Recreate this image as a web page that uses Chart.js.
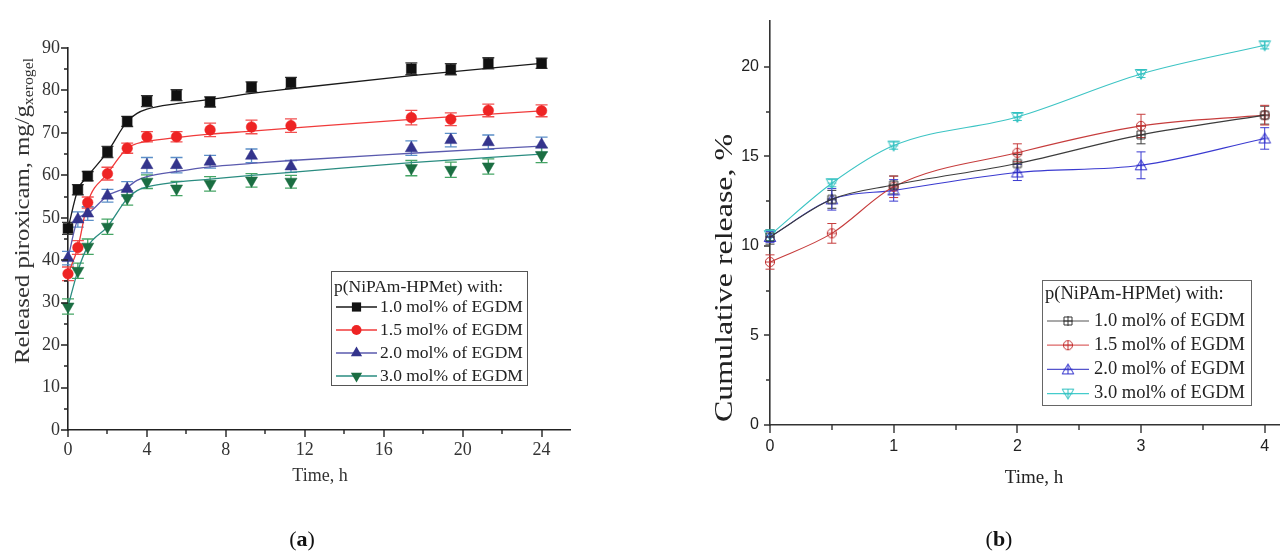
<!DOCTYPE html>
<html><head><meta charset="utf-8">
<script src="https://cdn.jsdelivr.net/npm/chart.js@4.4.1/dist/chart.umd.min.js"></script>
<style>
html,body{margin:0;padding:0;background:#fff;width:1287px;height:552px;overflow:hidden}
canvas{position:absolute;top:0}
#ca{left:0}
#cb{left:640px}
</style></head><body>
<canvas id="ca" width="640" height="552"></canvas>
<canvas id="cb" width="647" height="552"></canvas>
<script>
// ---------- DATA ----------
const seriesNames = ['1.0 mol% of EGDM','1.5 mol% of EGDM','2.0 mol% of EGDM','3.0 mol% of EGDM'];
const legendTitle = 'p(NiPAm-HPMet) with:';

// Panel (a)
const timeA = [0, 0.5, 1, 2, 3, 4, 5.5, 7.2, 9.3, 11.3, 17.4, 19.4, 21.3, 24];
const a10 = [47.5, 56.6, 59.8, 65.5, 72.7, 77.5, 78.9, 77.3, 80.8, 81.8, 85.1, 85.0, 86.4, 86.4];
const a15 = [36.8, 43.0, 53.6, 60.4, 66.4, 69.1, 69.1, 70.7, 71.4, 71.7, 73.6, 73.2, 75.3, 75.2];
const a20 = [40.5, 49.6, 51.0, 55.2, 56.8, 62.4, 62.4, 63.2, 64.6, 62.1, 66.4, 68.3, 67.8, 67.2];
const a30 = [29.1, 37.5, 43.2, 47.9, 54.7, 58.5, 56.9, 58.0, 58.8, 58.5, 61.7, 61.3, 62.1, 64.8];
const a10Err = [1.4, 1.2, 1.1, 1.3, 1.2, 1.3, 1.3, 1.2, 1.2, 1.3, 1.4, 1.3, 1.3, 1.2];
const a15Err = [1.6, 1.6, 1.3, 1.5, 1.2, 1.2, 1.2, 1.6, 1.6, 1.6, 1.7, 1.5, 1.5, 1.4];
const a20Err = [1.6, 1.8, 1.6, 1.5, 1.7, 1.8, 1.8, 1.5, 1.6, 1.4, 1.7, 1.6, 1.7, 1.8];
const a30Err = [1.8, 1.8, 1.8, 1.8, 1.7, 1.6, 1.7, 1.7, 1.6, 1.5, 1.8, 1.8, 1.8, 1.8];
// fitted curves (a)
const fitTimeA = [0, 0.5, 1, 2, 3, 3.5, 4, 5.5, 7.2, 9.3, 11.3, 17.4, 24];
const fitA10 = [47.5, 56.6, 59.8, 65.5, 72.7, 74.6, 75.6, 76.9, 77.9, 79.3, 80.4, 83.5, 86.4];
const fitA15 = [36.8, 43.0, 53.6, 60.4, 66.4, 67.5, 68.0, 68.9, 69.7, 70.4, 71.1, 73.2, 75.2];
const fitA20 = [40.5, 49.6, 51.0, 55.2, 57.2, 58.8, 59.7, 60.9, 62.0, 62.8, 63.5, 65.2, 66.9];
const fitA30 = [29.1, 37.5, 43.2, 47.9, 54.5, 56.4, 57.3, 58.4, 59.1, 60.0, 60.7, 63.0, 65.0];
const ticksAX = [0, 4, 8, 12, 16, 20, 24];
const minorAX = [2, 6, 10, 14, 18, 22];
const ticksAY = [0, 10, 20, 30, 40, 50, 60, 70, 80, 90];
const minorAY = [5, 15, 25, 35, 45, 55, 65, 75, 85];

// Panel (b)
const timeB = [0, 0.5, 1, 2, 3, 4];
const b10 = [10.5, 12.6, 13.4, 14.6, 16.2, 17.3];
const b15 = [9.1, 10.7, 13.3, 15.2, 16.7, 17.3];
const b20 = [10.5, 12.6, 13.1, 14.1, 14.5, 16.0];
const b30 = [10.6, 13.5, 15.6, 17.2, 19.6, 21.2];
const b10Err = [0.4, 0.5, 0.5, 0.5, 0.5, 0.5];
const b15Err = [0.4, 0.55, 0.6, 0.5, 0.65, 0.55];
const b20Err = [0.3, 0.6, 0.6, 0.45, 0.75, 0.6];
const b30Err = [0.3, 0.2, 0.2, 0.2, 0.2, 0.2];
const ticksBX = [0, 1, 2, 3, 4];
const minorBX = [0.5, 1.5, 2.5, 3.5];
const ticksBY = [0, 5, 10, 15, 20];
const minorBY = [2.5, 7.5, 12.5, 17.5];

// ---------- helpers ----------
const SERIF = "'Liberation Serif', 'Times New Roman', serif";
const SANS = "'Liberation Sans', Arial, sans-serif";
const pts = (xs, ys) => xs.map((x, i) => ({x: x, y: ys[i]}));

function drawAxisTicks(chart, c) {
  const ctx = chart.ctx, xs = chart.scales.x, ys = chart.scales.y;
  const a = chart.chartArea;
  ctx.save();
  ctx.strokeStyle = c.color; ctx.lineWidth = c.width;
  ctx.beginPath();
  const xt = (vals, len) => vals.forEach(v => { const p = Math.round(xs.getPixelForValue(v)); ctx.moveTo(p, a.bottom); ctx.lineTo(p, a.bottom + len); });
  const yt = (vals, len) => vals.forEach(v => { const p = Math.round(ys.getPixelForValue(v)); ctx.moveTo(a.left, p); ctx.lineTo(a.left - len, p); });
  xt(c.xMajor, c.xMajLen); xt(c.xMinor, c.xMinLen);
  yt(c.yMajor, c.yMajLen); yt(c.yMinor, c.yMinLen);
  ctx.stroke();
  ctx.restore();
}

function drawErrorBars(chart) {
  const ctx = chart.ctx, xs = chart.scales.x, ys = chart.scales.y;
  chart.data.datasets.forEach(ds => {
    if (!ds.errors) return;
    ctx.save();
    ctx.strokeStyle = ds.errColor; ctx.lineWidth = ds.errWidth || 1.2;
    ds.data.forEach((p, i) => {
      const e = ds.errors[i];
      const px = xs.getPixelForValue(p.x);
      const t = ys.getPixelForValue(p.y + e), b = ys.getPixelForValue(p.y - e);
      const hw = ds.capHalf;
      ctx.beginPath();
      ctx.moveTo(px, t); ctx.lineTo(px, b);
      ctx.moveTo(px - hw, t); ctx.lineTo(px + hw, t);
      ctx.moveTo(px - hw, b); ctx.lineTo(px + hw, b);
      ctx.stroke();
    });
    ctx.restore();
  });
}

function drawLegend(chart, L) {
  const ctx = chart.ctx;
  ctx.save();
  ctx.fillStyle = '#fff'; ctx.fillRect(L.x, L.y, L.w, L.h);
  ctx.strokeStyle = L.border; ctx.lineWidth = 1;
  ctx.strokeRect(L.x + 0.5, L.y + 0.5, L.w, L.h);
  ctx.font = L.font; ctx.fillStyle = L.textColor; ctx.textBaseline = 'middle'; ctx.textAlign = 'left';
  ctx.fillText(legendTitle, L.titleX, L.titleY);
  L.items.forEach((it, i) => {
    const y = L.firstY + i * L.gap;
    ctx.strokeStyle = it.lineColor; ctx.lineWidth = it.lineWidth;
    ctx.beginPath(); ctx.moveTo(L.lineX0, y); ctx.lineTo(L.lineX1, y); ctx.stroke();
    ctx.fillStyle = it.fill; ctx.strokeStyle = it.stroke; ctx.lineWidth = 1;
    Chart.helpers.drawPoint(ctx, {pointStyle: it.pointStyle, radius: it.radius, rotation: it.rotation || 0, borderWidth: it.borderWidth || 0}, (L.lineX0 + L.lineX1) / 2, y);
    ctx.font = L.font; ctx.fillStyle = L.textColor;
    ctx.fillText(seriesNames[i], L.textX, y);
  });
  ctx.restore();
}

function drawVTitle(chart, parts, baseX, bottomY, targetLen, color) {
  const ctx = chart.ctx;
  ctx.save();
  let total = 0;
  parts.forEach(p => { ctx.font = p.font; p.w = ctx.measureText(p.text).width; total += p.w; });
  const s = targetLen / total;
  ctx.translate(baseX, bottomY);
  ctx.rotate(-Math.PI / 2);
  ctx.scale(s, 1);
  ctx.fillStyle = color; ctx.textBaseline = 'alphabetic'; ctx.textAlign = 'left';
  let x = 0;
  parts.forEach(p => { ctx.font = p.font; ctx.fillText(p.text, x, p.dy || 0); x += p.w; });
  ctx.restore();
}

function drawText(chart, text, x, y, font, color, align) {
  const ctx = chart.ctx;
  ctx.save(); ctx.font = font; ctx.fillStyle = color; ctx.textAlign = align || 'center'; ctx.textBaseline = 'alphabetic';
  ctx.fillText(text, x, y); ctx.restore();
}

function drawPanelLabel(chart, letter, cx, baseY) {
  const ctx = chart.ctx;
  ctx.save();
  const reg = "22px " + SERIF, bold = "bold 22px " + SERIF;
  ctx.font = reg; const w1 = ctx.measureText('(').width, w3 = ctx.measureText(')').width;
  ctx.font = bold; const w2 = ctx.measureText(letter).width;
  let x = cx - (w1 + w2 + w3) / 2;
  ctx.fillStyle = '#111'; ctx.textBaseline = 'alphabetic'; ctx.textAlign = 'left';
  ctx.font = reg; ctx.fillText('(', x, baseY); x += w1;
  ctx.font = bold; ctx.fillText(letter, x, baseY); x += w2;
  ctx.font = reg; ctx.fillText(')', x, baseY);
  ctx.restore();
}

// ---------- Panel (a) ----------
const colA = {
  black: {line: '#1a1a1a', mark: '#111111', err: '#3a3a3a'},
  red: {line: '#f03a3a', mark: '#ee2424', err: '#f25050'},
  blue: {line: '#5a5aae', mark: '#34348c', err: '#5b8fc8'},
  green: {line: '#2a8c80', mark: '#1b6e42', err: '#45a565'}
};
function fitDs(xs, ys, color) {
  return {type: 'line', data: pts(xs, ys), borderColor: color, borderWidth: 1.3, pointRadius: 0, showLine: true, fill: false, cubicInterpolationMode: 'monotone', clip: false, order: 2};
}
function markDs(ys, errs, c, style, radius, rot) {
  return {data: pts(timeA, ys), showLine: false, pointStyle: style, pointRadius: radius, pointRotation: rot || 0,
    backgroundColor: c.mark, borderColor: c.mark, pointBorderWidth: 0.5, pointHoverRadius: radius,
    errors: errs, errColor: c.err, capHalf: 6, errWidth: 1.3, clip: false, order: 1};
}

const tickFontA = {family: SERIF, size: 18};
new Chart(document.getElementById('ca'), {
  type: 'scatter',
  data: {datasets: [
    fitDs(fitTimeA, fitA10, colA.black.line),
    fitDs(fitTimeA, fitA15, colA.red.line),
    fitDs(fitTimeA, fitA20, colA.blue.line),
    fitDs(fitTimeA, fitA30, colA.green.line),
    markDs(a10, a10Err, colA.black, 'rect', 7),
    markDs(a15, a15Err, colA.red, 'circle', 5.3),
    markDs(a20, a20Err, colA.blue, 'triangle', 7),
    markDs(a30, a30Err, colA.green, 'triangle', 7, 180)
  ]},
  options: {
    responsive: false, animation: false, devicePixelRatio: 1,
    layout: {padding: {left: 0, right: 70, top: 48, bottom: 0}},
    plugins: {legend: {display: false}, tooltip: {enabled: false}},
    events: [],
    scales: {
      x: {type: 'linear', min: 0, max: 25.44,
        grid: {display: false, drawTicks: false},
        border: {display: true, color: '#222', width: 1.6},
        ticks: {includeBounds: false, autoSkip: false, maxRotation: 0, padding: 9, color: '#333', font: tickFontA},
        afterBuildTicks: s => { s.ticks = ticksAX.map(v => ({value: v})); },
        afterFit: s => { s.height = 122; }},
      y: {type: 'linear', min: 0, max: 90,
        grid: {display: false, drawTicks: false},
        border: {display: true, color: '#222', width: 1.6},
        ticks: {includeBounds: false, autoSkip: false, padding: 8, color: '#333', font: tickFontA},
        afterBuildTicks: s => { s.ticks = ticksAY.map(v => ({value: v})); },
        afterFit: s => { s.width = 68; }}
    }
  },
  plugins: [{
    id: 'decoA',
    beforeDatasetsDraw(chart) { drawErrorBars(chart); },
    afterDraw(chart) {
      drawAxisTicks(chart, {color: '#222', width: 1.4, xMajor: ticksAX, xMinor: minorAX, yMajor: ticksAY, yMinor: minorAY, xMajLen: 7, xMinLen: 4, yMajLen: 7, yMinLen: 4});
      drawVTitle(chart, [
        {text: 'Released piroxicam, mg/g', font: '22px ' + SERIF},
        {text: 'xerogel', font: '14px ' + SERIF, dy: 4}
      ], 29, 364, 306, '#333');
      drawText(chart, 'Time, h', 320, 481, '18px ' + SERIF, '#333');
      drawLegend(chart, {
        x: 331, y: 271, w: 196, h: 114, border: '#555', font: '17.5px ' + SERIF, textColor: '#222',
        titleX: 334, titleY: 287, firstY: 307, gap: 23, lineX0: 336, lineX1: 377, textX: 380,
        items: [
          {lineColor: colA.black.line, lineWidth: 1.3, fill: colA.black.mark, stroke: colA.black.mark, pointStyle: 'rect', radius: 6.5},
          {lineColor: colA.red.line, lineWidth: 1.3, fill: colA.red.mark, stroke: colA.red.mark, pointStyle: 'circle', radius: 5},
          {lineColor: colA.blue.line, lineWidth: 1.3, fill: colA.blue.mark, stroke: colA.blue.mark, pointStyle: 'triangle', radius: 6.5},
          {lineColor: colA.green.line, lineWidth: 1.3, fill: colA.green.mark, stroke: colA.green.mark, pointStyle: 'triangle', radius: 6.5, rotation: 180}
        ]
      });
      drawPanelLabel(chart, 'a', 302, 546);
    }
  }]
});

// ---------- Panel (b) ----------
function makeMarker(shape, color) {
  const c = document.createElement('canvas'); c.width = 14; c.height = 14;
  const g = c.getContext('2d'); g.strokeStyle = color; g.lineWidth = 1;
  const m = 7;
  g.beginPath();
  if (shape === 'square') { g.rect(3, 3, 8, 8); }
  if (shape === 'circle') { g.arc(m, m, 4.6, 0, 2 * Math.PI); }
  if (shape === 'tri') { g.moveTo(m, 1.5); g.lineTo(12.8, 11.5); g.lineTo(1.2, 11.5); g.closePath(); }
  if (shape === 'dtri') { g.moveTo(m, 12.5); g.lineTo(12.8, 2.5); g.lineTo(1.2, 2.5); g.closePath(); }
  g.stroke();
  g.beginPath();
  g.moveTo(m, 2); g.lineTo(m, 12); g.moveTo(2.5, m); g.lineTo(11.5, m);
  g.stroke();
  return c;
}
const colB = {
  black: {line: '#3c3c3c', err: '#3c3c3c'},
  red: {line: '#c63c3c', err: '#c63c3c'},
  blue: {line: '#3a3ad0', err: '#3a3ad0'},
  cyan: {line: '#3cc4c4', err: '#3cc4c4'}
};
const mkB = {
  black: makeMarker('square', '#333'),
  red: makeMarker('circle', '#c23030'),
  blue: makeMarker('tri', '#3030cc'),
  cyan: makeMarker('dtri', '#30c0c0')
};
function dsB(ys, errs, c, marker) {
  return {data: pts(timeB, ys), showLine: true, borderColor: c.line, borderWidth: 1.1, tension: 0.35, cubicInterpolationMode: 'monotone',
    pointStyle: marker, pointRadius: 6, pointHoverRadius: 6, backgroundColor: 'rgba(0,0,0,0)',
    errors: errs, errColor: c.err, capHalf: 4.5, errWidth: 1, clip: false};
}
const tickFontB = {family: SANS, size: 16};
new Chart(document.getElementById('cb'), {
  type: 'scatter',
  data: {datasets: [
    dsB(b10, b10Err, colB.black, mkB.black),
    dsB(b15, b15Err, colB.red, mkB.red),
    dsB(b20, b20Err, colB.blue, mkB.blue),
    dsB(b30, b30Err, colB.cyan, mkB.cyan)
  ]},
  options: {
    responsive: false, animation: false, devicePixelRatio: 1,
    layout: {padding: {left: 0, right: 0, top: 17, bottom: 0}},
    plugins: {legend: {display: false}, tooltip: {enabled: false}},
    events: [],
    scales: {
      x: {type: 'linear', min: 0, max: 4.123,
        grid: {display: false, drawTicks: false},
        border: {display: true, color: '#333', width: 1.6},
        ticks: {includeBounds: false, autoSkip: false, maxRotation: 0, padding: 12, color: '#222', font: tickFontB},
        afterBuildTicks: s => { s.ticks = ticksBX.map(v => ({value: v})); },
        afterFit: s => { s.height = 127; }},
      y: {type: 'linear', min: 0, max: 22.58,
        grid: {display: false, drawTicks: false},
        border: {display: true, color: '#333', width: 1.6},
        ticks: {includeBounds: false, autoSkip: false, padding: 11, color: '#222', font: tickFontB},
        afterBuildTicks: s => { s.ticks = ticksBY.map(v => ({value: v})); },
        afterFit: s => { s.width = 130; }}
    }
  },
  plugins: [{
    id: 'decoB',
    beforeDatasetsDraw(chart) { drawErrorBars(chart); },
    afterDraw(chart) {
      drawAxisTicks(chart, {color: '#333', width: 1.4, xMajor: ticksBX, xMinor: minorBX, yMajor: ticksBY, yMinor: minorBY, xMajLen: 8, xMinLen: 5, yMajLen: 6, yMinLen: 4});
      drawVTitle(chart, [{text: 'Cumulative release, %', font: '25px ' + SERIF}], 92, 422, 288, '#222');
      drawText(chart, 'Time, h', 394, 483, '19px ' + SERIF, '#222');
      drawLegend(chart, {
        x: 402, y: 280, w: 209, h: 125, border: '#666', font: '18.5px ' + SERIF, textColor: '#222',
        titleX: 405, titleY: 294, firstY: 321, gap: 24.2, lineX0: 407, lineX1: 449, textX: 454,
        items: [
          {lineColor: '#555', lineWidth: 1.2, pointStyle: mkB.black, radius: 6, fill: 'transparent', stroke: '#333'},
          {lineColor: '#d66', lineWidth: 1.2, pointStyle: mkB.red, radius: 6, fill: 'transparent', stroke: '#c23030'},
          {lineColor: '#55c', lineWidth: 1.2, pointStyle: mkB.blue, radius: 6, fill: 'transparent', stroke: '#3030cc'},
          {lineColor: '#4cc', lineWidth: 1.2, pointStyle: mkB.cyan, radius: 6, fill: 'transparent', stroke: '#30c0c0'}
        ]
      });
      drawPanelLabel(chart, 'b', 359, 546);
    }
  }]
});
</script>
</body></html>
